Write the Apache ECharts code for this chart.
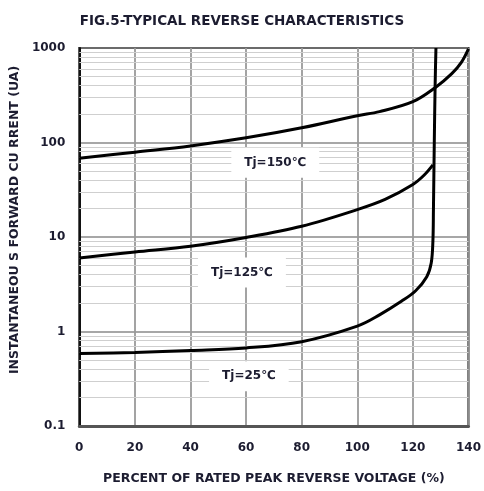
<!DOCTYPE html>
<html>
<head>
<meta charset="utf-8">
<script src="https://cdn.jsdelivr.net/npm/echarts@6/dist/echarts.min.js"></script>
<style>
html,body{margin:0;padding:0;background:#fff;}
#c{width:484px;height:491px;}
</style>
</head>
<body>
<div id="c"></div>
<script>
// Data
const xTicks = [0, 20, 40, 60, 80, 100, 120, 140];
const yDecades = [0.1, 1, 10, 100, 1000];
const minorLevels = [0.2,0.3,0.4,0.5,0.6,0.7,0.8,0.9,2,3,4,5,6,7,8,9,20,30,40,50,60,70,80,90,200,300,400,500,600,700,800,900];

const tj150 = [[0,68],[20,79],[40,92],[60,112],[80,143],[100,192],[108,212],[120,270],[128,380],[134,535],[137.5,710],[140,980]];
const tj125 = [[0,6.0],[20,6.95],[40,8.0],[60,9.9],[80,13],[100,19.5],[110,25],[120,36],[124,45],[127.2,58]];
const tj25 = [[0,0.585],[20,0.6],[40,0.63],[60,0.67],[80,0.78],[100,1.14],[108,1.5],[116,2.1],[121,2.7],[125,3.8],[126.6,5.3],[127.2,9],[127.4,20],[127.7,100],[128.0,400],[128.3,1000]];

const labels = [
  {name:'Tj=150℃', coord:[70.5,61]},
  {name:'Tj=125℃', coord:[58.5,4.2]},
  {name:'Tj=25℃', coord:[61,0.337]}
];

const FONT = 'DejaVu Sans';
const TXT = '#1c1c30';
const chart = echarts.init(document.getElementById('c'));
const curveStyle = {color:'#000', width:3};
function curve(name, data, lbl){
  return {
    name, type:'line', data, smooth:0.35, symbol:'none',
    lineStyle:curveStyle, z:5,
    markPoint:{
      symbol:'rect', symbolSize:0, silent:true,
      data:[{coord:lbl.coord, value:lbl.name}],
      label:{show:true, formatter:lbl.name, color:TXT, fontFamily:FONT, fontWeight:'bold', fontSize:12,
        backgroundColor:'#fff', padding:[9,13,9,13]}
    }
  };
}
chart.setOption({
  animation:false,
  title:{text:'FIG.5-TYPICAL REVERSE CHARACTERISTICS', left:'center', top:9,
    textStyle:{fontSize:13.5, fontWeight:'bold', color:TXT, fontFamily:FONT}},
  grid:{left:77, right:13, top:48, bottom:65, show:true, borderColor:'#111', borderWidth:2, backgroundColor:'#fff'},
  xAxis:{type:'value', min:0, max:140, interval:20,
    name:'PERCENT OF RATED PEAK REVERSE VOLTAGE (%)', nameLocation:'middle', nameGap:46,
    nameTextStyle:{fontSize:12.5, fontWeight:'bold', color:TXT, fontFamily:FONT},
    axisLine:{show:true, lineStyle:{color:'#555', width:3}}, axisTick:{show:false},
    axisLabel:{fontSize:12, fontWeight:'bold', color:TXT, margin:16, fontFamily:FONT,
      formatter:v=> xTicks.includes(v)? String(v):''},
    splitLine:{show:true, lineStyle:{color:'#999', width:1.8}}},
  yAxis:{type:'log', logBase:10, min:0.1, max:1000,
    name:'INSTANTANEOU S FORWARD CU RRENT (UA)', nameLocation:'middle', nameGap:54, nameRotate:90,
    nameTextStyle:{fontSize:12.5, fontWeight:'bold', color:TXT, fontFamily:FONT, padding:[0,0,0,34]},
    axisLine:{show:true, lineStyle:{color:'#111', width:2}}, axisTick:{show:false},
    axisLabel:{fontSize:12, fontWeight:'bold', color:TXT, margin:14, fontFamily:FONT,
      formatter:v=>{ const m = yDecades.find(d=>Math.abs(d-v)/d<1e-6); return m===undefined?'':String(m);} },
    splitLine:{show:true, lineStyle:{color:'#8a8a8a', width:1.5}}},
  series:[
    {name:'minor', type:'line', data:[], z:1, silent:true,
      markLine:{silent:true, symbol:'none', label:{show:false},
        lineStyle:{color:'#cfcfcf', width:1.2, type:'solid'},
        data: minorLevels.map(v=>({yAxis:v}))}},
    curve('Tj=150℃', tj150, labels[0]),
    curve('Tj=125℃', tj125, labels[1]),
    curve('Tj=25℃', tj25, labels[2])
  ]
});
</script>
</body>
</html>
